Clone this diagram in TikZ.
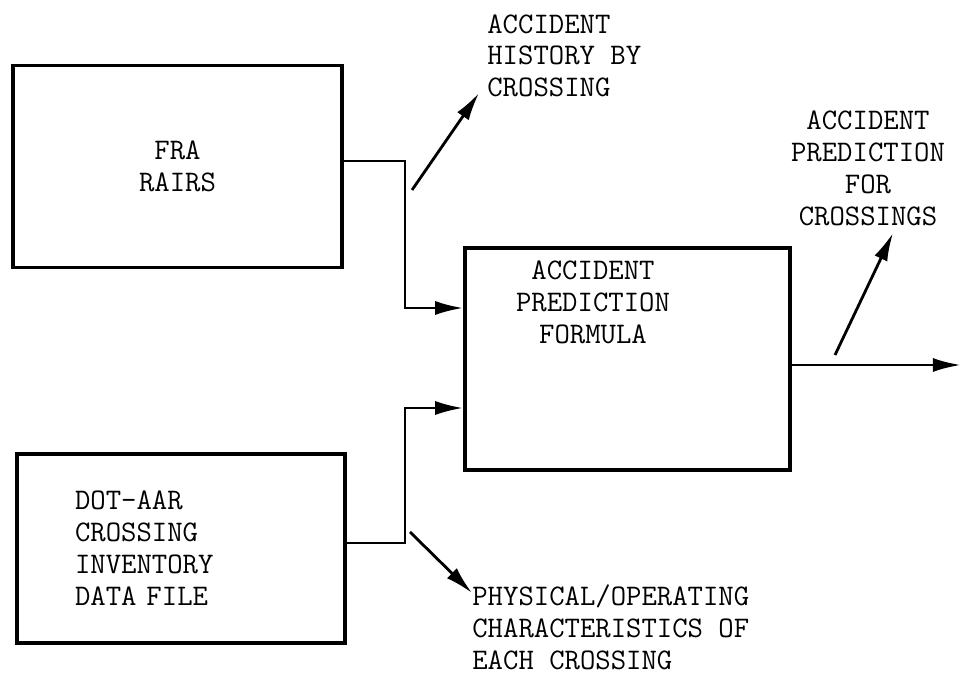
\documentclass[tikz,border=0pt]{standalone}
\usepackage{fontspec}
\usetikzlibrary{arrows.meta, positioning, calc}

\begin{document}
\begin{tikzpicture}[x=0.02cm, y=-0.02cm,
    block/.style={draw, line width=2pt, rectangle},
    txt/.style={font=\ttfamily\fontsize{17}{18.2}\selectfont, inner sep=0pt},
    flow/.style={line width=1.6pt, -{Latex[length=16pt, width=8pt]}}]
  \useasboundingbox (0,0) rectangle (964,675);

  % input files
  \node[block, txt, minimum width=6.58cm, minimum height=4.04cm, align=center] (fra) at (177.5,166.5) {FRA\\RAIRS};
  \node[block, txt, minimum width=6.56cm, minimum height=3.78cm, inner xsep=1.16cm, text width=4.24cm, align=left] (dot) at (181,548.5) {DOT-AAR\\CROSSING\\INVENTORY\\DATA FILE};

  % formula
  \node[block, minimum width=6.5cm, minimum height=4.44cm] (fml) at (627.5,359) {};
  \node[txt, align=center] (fmltxt) at (593,302) {ACCIDENT\\PREDICTION\\FORMULA};

  % outputs
  \node[txt, align=left, anchor=north west] (hist) at (487,14) {ACCIDENT\\HISTORY BY\\CROSSING};
  \node[txt, align=center] (pred) at (868,168) {ACCIDENT\\PREDICTION\\FOR\\CROSSINGS};
  \node[txt, align=left, anchor=north west] (phys) at (472,584) {PHYSICAL/OPERATING\\CHARACTERISTICS OF\\EACH CROSSING};

  \coordinate (busA) at (405,161);
  \coordinate (busB) at (405,543);
  \coordinate (inA) at (fml.west |- 0,308);
  \coordinate (inB) at (fml.west |- 0,408);
  \coordinate (outend) at (961,365);
  \draw[flow] (fra.east |- busA) -- (busA) |- (inA);
  \draw[flow] (dot.east |- busB) -- (busB) |- (inB);
  \draw[flow] (fml.east |- outend) -- (outend);

  \coordinate (histtail) at (412,190);
  \coordinate (histhead) at (479,93);
  \coordinate (predtail) at (835,355);
  \coordinate (predhead) at (893,233);
  \coordinate (phystail) at (410,532);
  \coordinate (physhead) at (472,593);
  \draw[flow] (histtail) -- (histhead);
  \draw[flow] (predtail) -- (predhead);
  \draw[flow] (phystail) -- (physhead);
\end{tikzpicture}
\end{document}
